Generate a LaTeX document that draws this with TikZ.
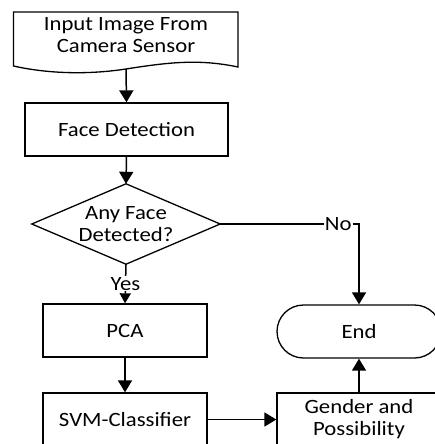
\documentclass[tikz,border=0pt]{standalone}
\usepackage{fontspec}
\setmainfont[FakeStretch=1.12]{Carlito}
\usetikzlibrary{arrows.meta}
\begin{document}
\begin{tikzpicture}[x=1pt,y=-1pt,
  every node/.style={font=\fontsize{20.3}{22}\selectfont, align=center},
  box/.style={draw, line width=1.3pt, minimum width=164pt, minimum height=53pt, inner sep=0pt},
  flow/.style={line width=1.5pt, -{Triangle[width=14pt,length=12pt]}},
  smallflow/.style={line width=1.5pt, -{Triangle[width=11pt,length=10pt]}},
  lbl/.style={fill=white, inner sep=1pt}
]
\clip (0,0) rectangle (435,444);
% document shape
\draw[line width=1.3pt] (13.5,12) -- (238,12) -- (238,67)
  .. controls (200,59) and (170,62) .. (126,69)
  .. controls (80,76) and (40,72) .. (13.5,66) -- cycle;
\coordinate (docb) at (126,69);
\node (doc) at (126,35) {Input Image From\\Camera Sensor};
% face detection
\node[box, minimum width=203pt] (fd) at (126.5,129.5) {Face Detection};
% decision
\node[minimum width=188pt, minimum height=80pt, inner sep=0pt] (dec) at (126,224) {Any Face\\Detected?};
\draw[line width=1.3pt] (dec.north) -- (dec.east) -- (dec.south) -- (dec.west) -- cycle;
% process boxes
\node[box] (pca) at (125,330.5) {PCA};
\node[box] (svm) at (125,419.5) {SVM-Classifier};
\node[box] (gen) at (359,419.5) {Gender and\\Possibility};
\node[box, rounded corners=26.5pt] (end) at (359,331.5) {End};
% connectors
\draw[flow] (docb) -- (fd.north);
\draw[flow] (fd.south) -- (dec.north);
\draw[flow] (dec.east) -| node[lbl, pos=0.425] {No} (end.north);
\draw[smallflow] (dec.south) -- node[lbl] {Yes} (pca.north);
\draw[flow] (pca.south) -- (svm.north);
\draw[flow] (svm.east) -- (gen.west);
\draw[flow] (gen.north) -- (end.south);
\end{tikzpicture}
\end{document}
